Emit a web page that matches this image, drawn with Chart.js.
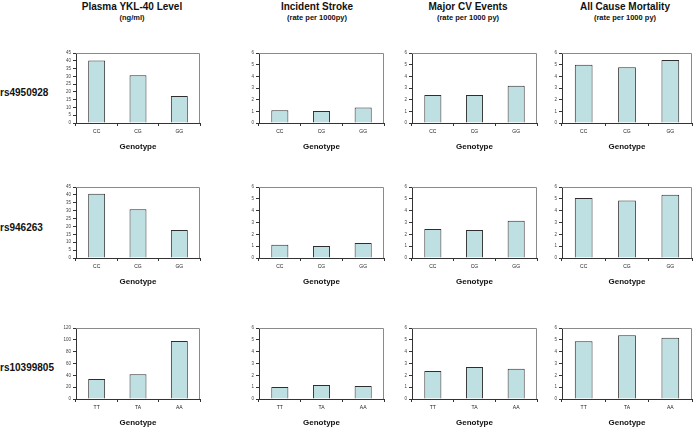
<!DOCTYPE html>
<html><head><meta charset="utf-8">
<script src="https://cdn.jsdelivr.net/npm/chart.js@4"></script>
<style>
body{margin:0;width:694px;height:429px;background:#fff;position:relative;overflow:hidden;font-family:"Liberation Sans",Arial,sans-serif;}
.t{position:absolute;font-weight:bold;color:#111;white-space:nowrap;transform:translate(-50%,-50%);}
.r{position:absolute;font-weight:bold;color:#111;font-size:10px;white-space:nowrap;transform:translateY(-50%);}
canvas{position:absolute;}
</style></head><body>
<script>
// ---- data ----
const rowLabels = ['rs4950928', 'rs946263', 'rs10399805'];
const colTitles = ['Plasma YKL-40 Level', 'Incident Stroke', 'Major CV Events', 'All Cause Mortality'];
const colSubtitles = ['(ng/ml)', '(rate per 1000py)', '(rate per 1000 py)', '(rate per 1000 py)'];
const genotypesRow1 = ['CC', 'CG', 'GG'];
const genotypesRow2 = ['CC', 'CG', 'GG'];
const genotypesRow3 = ['TT', 'TA', 'AA'];
const ykl40 = [[40.2, 30.7, 17.3], [40.8, 30.9, 17.8], [34, 42, 98]];
const stroke = [[1.1, 1.02, 1.33], [1.12, 1.01, 1.27], [1.02, 1.19, 1.1]];
const majorCV = [[2.41, 2.4, 3.19], [2.45, 2.37, 3.14], [2.36, 2.7, 2.56]];
const mortality = [[5.0, 4.78, 5.4], [5.08, 4.86, 5.34], [4.89, 5.39, 5.18]];
const yMaxes = [[45, 6, 6, 6], [45, 6, 6, 6], [120, 6, 6, 6]];
const ySteps = [[5, 1, 1, 1], [5, 1, 1, 1], [20, 1, 1, 1]];
const xTitle = 'Genotype';

// ---- layout ----
const colLeft = [76, 259, 412, 562];
const colRight = [200, 384, 537, 692];
const rowTop = [53, 187, 328];
const rowBottom = [123, 258, 399];
const titleX = [132, 317, 468, 625];
const rowLabelY = [92, 227, 367];
const Y_W = 24, PAD_T = 5, PAD_R = 3, X_H = 29;

const genotypes = [genotypesRow1, genotypesRow2, genotypesRow3];
const series = [ykl40, stroke, majorCV, mortality];

function addText(cls, text, x, y, size) {
  const d = document.createElement('div');
  d.className = cls; d.textContent = text;
  d.style.left = x + 'px'; d.style.top = y + 'px';
  if (size) d.style.fontSize = size + 'px';
  document.body.appendChild(d);
}
colTitles.forEach((t, i) => {
  addText('t', t, titleX[i], 6, 10);
  addText('t', colSubtitles[i], titleX[i], 17, 7.5);
});
rowLabels.forEach((t, i) => addText('r', t, 0, rowLabelY[i]));

const framePlugin = {
  id: 'frame',
  afterDatasetsDraw(chart) {
    const a = chart.chartArea, c = chart.ctx;
    c.save();
    c.strokeStyle = '#8a8a8a'; c.lineWidth = 1;
    c.beginPath();
    c.moveTo(a.left, a.top + 0.5); c.lineTo(a.right - 0.5, a.top + 0.5); c.lineTo(a.right - 0.5, a.bottom);
    c.stroke();
    c.restore();
  }
};

for (let r = 0; r < 3; r++) {
  for (let col = 0; col < 4; col++) {
    const L = colLeft[col], R = colRight[col], T = rowTop[r], B = rowBottom[r];
    const cv = document.createElement('canvas');
    const w = (R - L) + Y_W + PAD_R, h = (B - T) + PAD_T + X_H;
    cv.width = w; cv.height = h;
    cv.style.left = (L - Y_W) + 'px'; cv.style.top = (T - PAD_T) + 'px';
    cv.style.width = w + 'px'; cv.style.height = h + 'px';
    document.body.appendChild(cv);
    new Chart(cv, {
      type: 'bar',
      data: {
        labels: genotypes[r],
        datasets: [{
          data: series[col][r],
          backgroundColor: '#bfe0e3',
          borderColor: '#2e2e2e',
          borderWidth: 1,
          barPercentage: 0.41,
          categoryPercentage: 1
        }]
      },
      options: {
        responsive: false,
        animation: false,
        devicePixelRatio: 1,
        layout: { padding: { top: PAD_T, right: PAD_R, left: 0, bottom: 0 } },
        plugins: { legend: { display: false }, tooltip: { enabled: false } },
        scales: {
          x: {
            grid: { drawOnChartArea: false, offset: true, tickLength: 3, color: '#333' },
            border: { color: '#333', width: 1 },
            ticks: { padding: 3, color: '#222', font: { size: 5, family: 'Liberation Sans' } },
            title: { display: true, text: xTitle, padding: 0, color: '#111', font: { size: 8, weight: 'bold', family: 'Liberation Sans' } },
            afterFit(s) { s.height = X_H; }
          },
          y: {
            min: 0, max: yMaxes[r][col],
            grid: { drawOnChartArea: false, tickLength: 3, color: '#333' },
            border: { color: '#333', width: 1 },
            ticks: { stepSize: ySteps[r][col], autoSkip: false, padding: 2, color: '#444', font: { size: 4.5, family: 'Liberation Sans' } },
            afterFit(s) { s.width = Y_W; }
          }
        }
      },
      plugins: [framePlugin]
    });
  }
}
</script>
</body></html>
